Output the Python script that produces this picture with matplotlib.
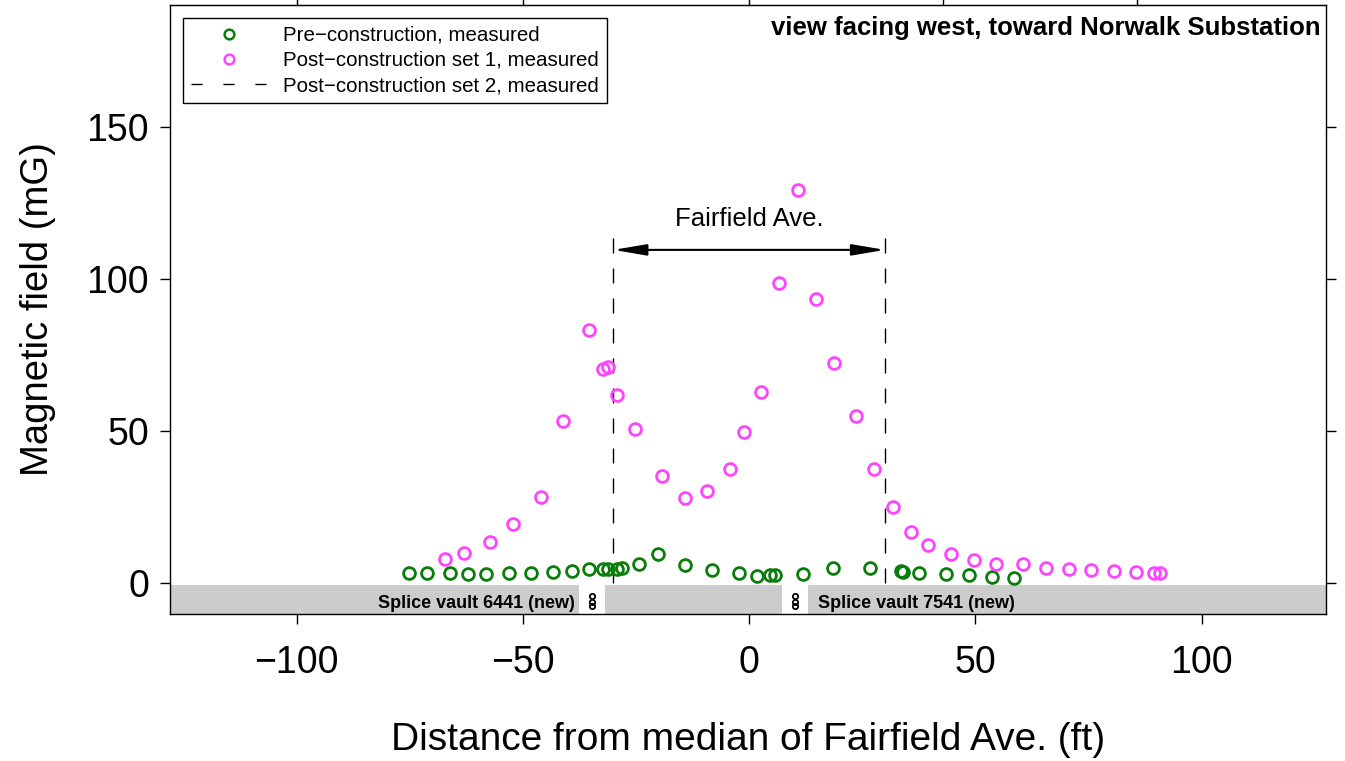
import numpy as np
import matplotlib
matplotlib.use( "Agg" )
import matplotlib.pyplot as plt
from matplotlib.lines import Line2D
from matplotlib.patches import Rectangle

plt.rcParams['font.family'] = ['Liberation Sans', 'DejaVu Sans']

# pre-construction, measured
pre_x = [-75.1, -71.1, -66.2, -62.1, -58.2, -53.0, -48.2, -43.3, -39.2, -35.3,
         -32.2, -31.1, -29.3, -28.2, -24.3, -20.2, -14.1, -8.2, -2.2, 1.8,
         4.5, 5.7, 11.8, 18.6, 26.6, 33.5, 34.0, 37.6, 43.6, 48.6, 53.6, 58.6]
pre_y = [3.2, 3.4, 3.2, 2.9, 3.1, 3.4, 3.2, 3.6, 3.9, 4.5,
         4.5, 4.5, 4.5, 4.9, 6.2, 9.5, 5.9, 4.3, 3.4, 2.4,
         2.5, 2.5, 3.0, 5.0, 4.8, 4.0, 3.6, 3.2, 3.0, 2.7, 2.1, 1.6]

# post-construction set 1, measured
post1_x = [-67.2, -63.1, -57.2, -52.1, -46.1, -41.2, -35.3, -32.2, -31.1, -29.2,
           -25.2, -19.2, -14.1, -9.3, -4.3, -1.2, 2.7, 6.7, 10.8, 14.7,
           18.7, 23.7, 27.7, 31.7, 35.7, 39.6, 44.6, 49.6, 54.6, 60.6,
           65.6, 70.6, 75.6, 80.6, 85.5, 89.5, 90.7]
post1_y = [7.9, 10.0, 13.5, 19.4, 28.4, 53.4, 83.2, 70.4, 70.9, 61.9,
           50.7, 35.2, 28.0, 30.2, 37.4, 49.6, 62.9, 98.5, 129.3, 93.2,
           72.4, 54.9, 37.4, 25.0, 16.9, 12.4, 9.4, 7.5, 6.2, 6.2,
           4.8, 4.6, 4.3, 3.9, 3.7, 3.4, 3.4]

road_edges = [-30.0, 30.0]
road_name = "Fairfield Ave."
vaults = [( -34.7, "Splice vault 6441 (new)" ), ( 10.2, "Splice vault 7541 (new)" )]
top_ticks = [-100, -50, 0, 42.9, 85.7]

green = "#0a7d0a"
pink = "#ff44ff"

fig = plt.figure( figsize=(13.45, 7.61), dpi=100 )
ax = fig.add_axes( [0.1264, 0.1932, 0.8595, 0.8002] )
ax.set_xlim( -128, 127.5 )
ax.set_ylim( -10.2, 190 )

# ground band
ax.add_patch( Rectangle( (-128, -10.2), 255.5, 9.6, facecolor="#cccccc",
                         edgecolor="none", zorder=1 ) )

# splice vaults
for xv, name in vaults :
    ax.add_patch( Rectangle( (xv - 2.9, -10.2), 5.8, 9.6, facecolor="white",
                             edgecolor="none", zorder=1.5 ) )
    ax.plot( [xv, xv, xv], [-4.4, -6.1, -7.7], 'o', mfc="none", mec="black",
             ms=3.8, mew=1.3, zorder=2 )
    if xv < 0 :
        ax.text( xv - 3.9, -6.6, name, ha="right", va="center",
                 fontsize=13, fontweight="bold" )
    else :
        ax.text( xv + 5.0, -6.6, name, ha="left", va="center",
                 fontsize=13, fontweight="bold" )

# road edges and arrow
for xe in road_edges :
    ax.plot( [xe, xe], [0, 114.3], color="black", lw=1,
             linestyle=(0, (10.8, 10.8)) )
ax.annotate( "", xy=(road_edges[1], 109.5), xytext=(road_edges[0], 109.5),
             arrowprops=dict( arrowstyle="<|-|>,head_length=1.0,head_width=0.17",
                              mutation_scale=20, color="black", lw=1.5,
                              shrinkA=0, shrinkB=0 ) )
ax.text( np.mean( road_edges ), 119.6, road_name, ha="center", va="center",
         fontsize=18.5 )

ax.plot( pre_x, pre_y, 'o', mfc="none", mec=green, ms=8.5, mew=2.0, zorder=4 )
ax.plot( post1_x, post1_y, 'o', mfc="none", mec=pink, ms=8.5, mew=2.0, zorder=4 )

ax.text( 0.9955, 0.982, "view facing west, toward Norwalk Substation",
         transform=ax.transAxes, ha="right", va="top", fontsize=18.5,
         fontweight="bold" )

handles = [
    Line2D( [], [], ls="none", marker="o", mfc="none", mec=green, ms=7, mew=1.8 ),
    Line2D( [], [], ls="none", marker="o", mfc="none", mec=pink, ms=7, mew=1.8 ),
    Line2D( [], [], color="black", lw=1, linestyle=(0, (8, 15)) ),
]
labels = ["Pre\u2212construction, measured",
          "Post\u2212construction set 1, measured",
          "Post\u2212construction set 2, measured"]
leg = ax.legend( handles, labels, loc="upper left",
                 bbox_to_anchor=(0.0112, 0.9787), borderaxespad=0,
                 fontsize=14.8, fancybox=False, edgecolor="black",
                 framealpha=1, handlelength=3.75, handletextpad=0.75,
                 labelspacing=0.3, borderpad=0.38, numpoints=1 )
leg.get_frame().set_linewidth( 1.0 )

ax.set_xticks( [-100, -50, 0, 50, 100] )
ax.set_yticks( [0, 50, 100, 150] )
ax.tick_params( axis="both", direction="out", length=7, width=1,
                labelsize=27 )
ax.tick_params( axis="x", pad=15 )
ax.tick_params( axis="y", pad=8, right=True )

top = ax.secondary_xaxis( "top" )
top.set_xticks( top_ticks )
top.set_xticklabels( [""] * len( top_ticks ) )
top.tick_params( direction="out", length=7, width=1 )

for s in ax.spines.values() :
    s.set_linewidth( 1.0 )

ax.set_xlabel( "Distance from median of Fairfield Ave. (ft)", fontsize=28,
               labelpad=30 )
ax.set_ylabel( "Magnetic field (mG)", fontsize=27.5, labelpad=22 )

fig.savefig( "out.png", dpi=100 )
